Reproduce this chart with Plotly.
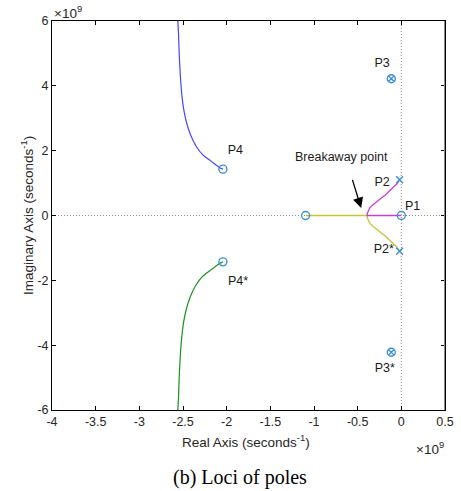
import plotly.graph_objects as go

# ---- data (units of 1e9 s^-1) ----
blue_x = [-2.559, -2.551, -2.543, -2.531, -2.517, -2.494, -2.463, -2.414, -2.348, -2.273, -2.176, -2.081, -2.043]
blue_y = [6.00, 5.58, 4.96, 4.34, 3.83, 3.31, 2.90, 2.49, 2.13, 1.87, 1.67, 1.48, 1.43]
green_x = [-2.559, -2.551, -2.543, -2.531, -2.517, -2.494, -2.463, -2.414, -2.348, -2.273, -2.176, -2.081, -2.043]
green_y = [-6.00, -5.58, -4.96, -4.34, -3.83, -3.31, -2.90, -2.49, -2.13, -1.87, -1.67, -1.48, -1.43]
mag_x = [0.000, -0.390, -0.389, -0.380, -0.363, -0.336, -0.306, -0.268, -0.229, -0.190, -0.153, -0.115, -0.077, -0.050, -0.020]
mag_y = [0.000, 0.000, 0.07, 0.15, 0.23, 0.31, 0.38, 0.46, 0.54, 0.62, 0.71, 0.80, 0.90, 0.98, 1.10]
yel_x = [-1.096, -0.390, -0.389, -0.380, -0.363, -0.336, -0.306, -0.268, -0.229, -0.190, -0.153, -0.115, -0.077, -0.050, -0.020]
yel_y = [0.000, 0.000, -0.07, -0.15, -0.23, -0.31, -0.38, -0.46, -0.54, -0.62, -0.71, -0.80, -0.90, -0.98, -1.10]

zero_x = [0.0, -1.096, -2.043, -2.043]
zero_y = [0.0, 0.0, 1.43, -1.43]
pole_x = [-0.020, -0.020]
pole_y = [1.10, -1.10]
pz_x = [-0.115, -0.115]
pz_y = [4.22, -4.22]

label_text = ["P1", "P2", "P2*", "P3", "P3*", "P4", "P4*"]
label_x = [0.13, -0.22, -0.20, -0.22, -0.19, -1.90, -1.87]
label_y = [0.26, 1.02, -1.06, 4.67, -4.74, 1.98, -2.04]

x_ticks = [-4, -3.5, -3, -2.5, -2, -1.5, -1, -0.5, 0, 0.5]
y_ticks = [-6, -4, -2, 0, 2, 4, 6]

MK = "#3a8fd8"
SANS = "Liberation Sans, Arial"
fig = go.Figure()

# dotted reference axes
fig.add_trace(go.Scatter(x=[-4, 0.5], y=[0, 0], mode="lines",
                         line=dict(color="#8c8c8c", width=1, dash="1px,2px"), hoverinfo="skip"))
fig.add_trace(go.Scatter(x=[0, 0], y=[-6, 6], mode="lines",
                         line=dict(color="#8c8c8c", width=1, dash="1px,2px"), hoverinfo="skip"))

fig.add_trace(go.Scatter(x=blue_x, y=blue_y, mode="lines", line=dict(color="#4646ff", width=1.2, shape="spline", smoothing=0.6)))
fig.add_trace(go.Scatter(x=green_x, y=green_y, mode="lines", line=dict(color="#1f8f1f", width=1.2, shape="spline", smoothing=0.6)))
fig.add_trace(go.Scatter(x=yel_x, y=yel_y, mode="lines", line=dict(color="#c4c43a", width=1.3)))
fig.add_trace(go.Scatter(x=mag_x, y=mag_y, mode="lines", line=dict(color="#cc3fcc", width=1.3)))

fig.add_trace(go.Scatter(x=zero_x, y=zero_y, mode="markers",
                         marker=dict(symbol="circle-open", size=8, color=MK, line=dict(width=1.4, color=MK))))
fig.add_trace(go.Scatter(x=pole_x, y=pole_y, mode="markers",
                         marker=dict(symbol="x-thin-open", size=7, color=MK, line=dict(width=1.4, color=MK))))
fig.add_trace(go.Scatter(x=pz_x, y=pz_y, mode="markers",
                         marker=dict(symbol="circle-x-open", size=8, color=MK, line=dict(width=1.4, color=MK))))

fig.add_trace(go.Scatter(x=label_x, y=label_y, mode="text", text=label_text,
                         textfont=dict(family=SANS, size=12.5, color="#1a1a1a")))

TICKF = dict(family=SANS, size=12.5, color="#262626")
TITLEF = dict(family=SANS, size=13.5, color="#262626")
ann = [
    dict(x=-0.68, y=1.80, xref="x", yref="y", text="Breakaway point", showarrow=False,
         font=dict(family=SANS, size=12.5, color="#1a1a1a")),
    dict(x=-0.46, y=0.23, ax=-0.59, ay=1.36, xref="x", yref="y", axref="x", ayref="y",
         text=" ", showarrow=True, arrowhead=2, arrowsize=1.6, arrowwidth=1.3, arrowcolor="black"),
    dict(x=246, y=441, xref="paper", yref="paper", text="Real Axis (seconds<sup>-1</sup>)", showarrow=False, font=TITLEF),
    dict(x=27, y=216, xref="paper", yref="paper", text="Imaginary Axis (seconds<sup>-1</sup>)", showarrow=False,
         textangle=-90, font=TITLEF),
    dict(x=68, y=12, xref="paper", yref="paper", text="×10<sup>9</sup>", showarrow=False, font=TITLEF),
    dict(x=430, y=448, xref="paper", yref="paper", text="×10<sup>9</sup>", showarrow=False, font=TITLEF),
    dict(x=240, y=477, xref="paper", yref="paper", text="(b) Loci of poles", showarrow=False,
         font=dict(family="Liberation Serif, Times New Roman", size=20, color="black")),
]

# convert pixel-positioned paper annotations into paper fractions
L, R, T, B = 52, 16, 21, 81
W, H = 461, 491
pw, ph = W - L - R, H - T - B
for a in ann:
    if a.get("xref") == "paper":
        a["x"] = (a["x"] - L) / pw
        a["y"] = 1 - (a["y"] - T) / ph
        a["xanchor"] = "center"
        a["yanchor"] = "middle"

fig.update_layout(
    width=W, height=H,
    margin=dict(l=L, r=R, t=T, b=B),
    paper_bgcolor="white", plot_bgcolor="white",
    showlegend=False,
    annotations=ann,
    font=TICKF,
    shapes=[dict(type="line", xref="x", yref="y", x0=0.5, x1=0.5, y0=-6, y1=6,
                 line=dict(color="#8a8a8a", width=2))],
)
fig.update_xaxes(range=[-4, 0.5], tickvals=x_ticks, ticktext=[f"{v:g}" for v in x_ticks],
                 showgrid=False, zeroline=False, showline=True, linecolor="black", linewidth=1,
                 mirror="ticks", ticks="inside", ticklen=4, tickcolor="black",
                 tickfont=TICKF, automargin=False)
fig.update_yaxes(range=[-6, 6], tickvals=y_ticks, ticktext=[f"{v:g}" for v in y_ticks],
                 showgrid=False, zeroline=False, showline=True, linecolor="black", linewidth=1,
                 mirror="ticks", ticks="inside", ticklen=4, tickcolor="black",
                 tickfont=TICKF, automargin=False)

fig.write_html("out.html")
